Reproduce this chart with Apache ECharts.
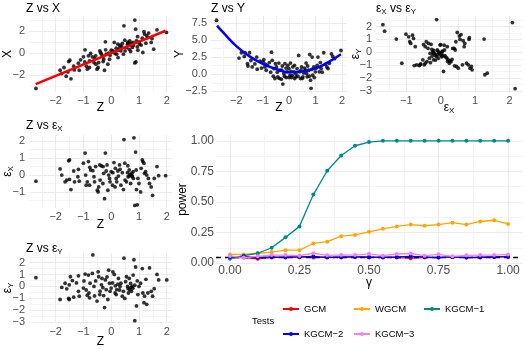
<!DOCTYPE html>
<html>
<head>
<meta charset="utf-8">
<script src="https://cdn.jsdelivr.net/npm/echarts@6/dist/echarts.min.js"></script>
<style>
html, body { margin: 0; padding: 0; background: #fff; }
#chart { width: 525px; height: 350px; }
</style>
</head>
<body>
<div id="chart"></div>
<script>
// ---- data ----

// Z vs X  [Z, X]
const zxPoints = [[-2.71,-3.2],[-1.84,-1.55],[-1.78,-1.85],[-1.62,-2.09],[-1.45,-2.33],[-1.56,-1.7],[-1.53,-0.76],[-1.49,-0.64],[-1.35,-1.18],[-1.33,-1.52],[-1.18,-0.91],[-1.15,-1.55],[-1.0,-0.33],[-0.94,0.3],[-0.89,-1.18],[-0.86,-1.45],[-0.82,-0.24],[-0.78,-1.3],[-0.78,-0.7],[-0.74,-0.03],[-0.68,-0.33],[-0.62,-0.85],[-0.56,-0.24],[-0.51,-1.45],[-0.47,-1.3],[-0.45,-0.85],[-0.41,0.21],[-0.38,0.06],[-0.35,-0.09],[-0.29,-0.76],[-0.27,-0.55],[-0.24,-1.55],[-0.21,1.03],[-0.18,-0.09],[-0.12,-1.0],[-0.09,0.0],[-0.06,-0.55],[-0.04,-0.18],[0.0,0.27],[0.06,0.21],[0.11,0.97],[0.14,-0.03],[0.18,0.45],[0.2,-0.09],[0.24,0.82],[0.26,0.27],[0.32,0.73],[0.35,0.21],[0.4,0.88],[0.44,-0.09],[0.46,2.48],[0.49,1.18],[0.55,0.52],[0.59,0.82],[0.61,0.88],[0.67,1.12],[0.71,0.73],[0.73,0.88],[0.76,0.52],[0.79,0.97],[0.88,2.18],[0.85,3.0],[0.85,-0.88],[0.89,-0.79],[0.91,1.12],[0.94,0.58],[0.96,0.27],[1.02,0.82],[1.08,0.73],[1.12,1.36],[1.14,0.06],[1.18,1.94],[1.2,1.73],[1.28,1.58],[1.32,1.42],[1.35,1.82],[1.44,0.97],[1.47,1.33],[1.53,0.36],[1.65,2.12],[1.99,1.88],[-1.7,-1.3],[-0.6,-0.5],[-0.3,-0.3],[0.1,0.1],[0.3,0.5],[0.5,0.2],[0.65,0.35],[0.8,0.7],[1.0,1.0],[-1.1,-0.6],[0.7,0.15],[-0.2,0.3],[0.25,-0.4],[1.25,0.9],[0.95,1.5],[-0.55,-1.0],[0.6,1.0],[0.38,0.6],[-0.95,-0.8]];
// linear fit, end points
const zxFit = [[-2.72,-2.8],[1.96,2.03]];

// Z vs Y  [Z, Y]
const zyPoints = [[-2.75,7.88],[-1.9,2.36],[-1.81,3.13],[-1.67,3.13],[-1.5,3.13],[-1.58,1.54],[-1.56,1.2],[-1.4,1.06],[-1.23,2.5],[-1.21,0.72],[-0.99,1.78],[-0.96,2.12],[-0.92,1.06],[-0.87,0.58],[-0.83,1.3],[-0.67,3.22],[-0.64,2.02],[-0.58,0.82],[-0.54,-0.63],[-0.52,1.54],[-0.48,1.06],[-0.43,-0.38],[-0.39,1.63],[-0.35,0.58],[-0.3,-0.72],[-0.26,1.2],[-0.24,-1.44],[-0.2,0.1],[-0.16,1.54],[-0.11,-0.48],[-0.08,0.34],[-0.05,1.3],[-0.01,0.82],[0.03,-0.14],[0.05,1.63],[0.09,-0.48],[0.14,1.06],[0.18,0.34],[0.21,-0.63],[0.26,-0.38],[0.3,0.82],[0.36,2.74],[0.39,0.34],[0.43,-0.63],[0.47,1.06],[0.52,-0.38],[0.55,0.19],[0.62,0.58],[0.64,1.63],[0.68,-0.38],[0.74,0.58],[0.78,2.88],[0.81,-0.87],[0.83,-2.07],[0.87,2.5],[0.89,-0.14],[0.93,1.06],[0.99,0.34],[1.06,1.3],[1.09,2.5],[1.14,0.34],[1.21,0.82],[1.31,3.13],[1.37,1.44],[1.43,1.06],[1.47,0.82],[1.6,2.98],[1.65,2.6],[1.72,2.26],[1.96,3.46],[-1.45,2.0],[-1.3,1.5],[-1.1,1.9],[-1.05,0.9],[-0.75,1.7],[-0.7,0.3],[-0.6,-0.3],[-0.45,0.3],[-0.38,-0.6],[-0.28,0.6],[-0.18,-0.3],[-0.12,0.9],[0.0,-0.5],[0.07,0.4],[0.12,-0.2],[0.2,1.3],[0.25,0.1],[0.33,-0.3],[0.45,0.6],[0.5,-0.6],[0.58,0.9],[0.66,0.1],[0.7,1.2],[0.76,-0.3],[0.85,0.7],[0.95,-0.5],[1.02,0.9],[1.18,1.7],[1.25,0.3],[1.52,1.6],[-0.9,1.45],[-1.7,2.6]];
// smooth fit
const zyFit = [[-2.73,7.1],[-2.5,6.1],[-2.0,4.1],[-1.5,2.6],[-1.0,1.5],[-0.5,0.75],[0.0,0.3],[0.5,0.4],[1.0,0.85],[1.5,1.8],[1.96,2.9]];

// eps_X vs eps_Y  [epsX, epsY]
const epsPoints = [[-1.68,2.15],[-1.63,1.64],[-1.29,1.03],[-1.13,-0.85],[-1.01,1.41],[-0.93,1.2],[-0.9,0.82],[-0.87,0.69],[-0.82,1.33],[-0.79,1.08],[-0.74,0.44],[-0.77,-1.03],[-0.62,-1.03],[-0.58,-0.9],[-0.52,-0.59],[-0.48,-0.97],[-0.45,0.44],[-0.42,0.82],[-0.4,-0.72],[-0.37,0.31],[-0.35,0.69],[-0.33,-0.46],[-0.31,-0.08],[-0.28,0.62],[-0.26,0.23],[-0.23,0.05],[-0.21,-0.59],[-0.18,-0.08],[-0.16,-0.21],[-0.13,-0.33],[-0.12,2.54],[-0.1,0.18],[-0.07,-0.46],[-0.04,-0.03],[-0.02,0.56],[0.0,-0.21],[0.02,-0.08],[0.04,0.05],[0.06,-0.28],[0.08,-1.49],[0.11,0.18],[0.15,-0.38],[0.19,0.44],[0.22,-0.59],[0.25,-0.85],[0.27,-0.67],[0.3,-0.72],[0.33,-0.54],[0.39,0.31],[0.42,0.18],[0.44,0.82],[0.46,-1.1],[0.48,1.54],[0.51,-1.23],[0.54,1.26],[0.56,1.0],[0.59,1.38],[0.63,-0.97],[0.68,0.44],[0.7,0.69],[0.75,-0.85],[0.8,-0.97],[0.82,1.0],[0.83,1.13],[0.85,-1.23],[0.89,-1.1],[0.91,-1.36],[1.26,1.03],[1.28,-1.74],[1.35,-1.62],[2.08,2.31],[2.16,-2.82],[-0.2,0.15],[-0.1,-0.2],[-0.15,-0.6],[0.12,-0.25],[0.05,0.1],[-0.05,-0.1],[0.0,0.6],[-0.3,-0.8],[0.2,-0.7],[-0.5,0.6],[-0.6,-0.95],[0.35,0.3],[0.03,-0.35],[-0.08,0.1],[-0.25,-0.3],[0.18,-0.45],[-0.45,-0.85],[0.65,0.9],[-0.7,-0.98],[0.4,-1.05],[-0.22,-0.1],[0.1,0.55]];

// Z vs eps_X  [Z, epsX]
const zEpsX = [[-2.71,-0.36],[-1.84,0.36],[-1.78,0.0],[-1.66,-0.4],[-1.53,0.84],[-1.5,0.9],[-1.5,-0.26],[-1.45,-0.86],[-1.35,0.24],[-1.32,-0.4],[-1.18,0.34],[-1.15,-0.36],[-1.0,0.7],[-0.94,1.3],[-0.92,0.0],[-0.86,-0.4],[-0.82,0.8],[-0.78,-0.6],[-0.77,0.46],[-0.74,0.3],[-0.62,-0.1],[-0.56,0.5],[-0.5,-0.9],[-0.47,-1.0],[-0.45,-0.7],[-0.41,0.6],[-0.35,0.54],[-0.29,0.5],[-0.27,0.1],[-0.24,-1.4],[-0.21,1.3],[-0.18,0.24],[-0.12,-0.9],[-0.09,0.0],[-0.06,-0.2],[-0.04,-0.4],[0.0,0.2],[0.06,0.14],[0.1,0.74],[0.14,-0.7],[0.18,-0.2],[0.2,-0.4],[0.24,0.24],[0.26,-0.06],[0.32,0.34],[0.35,-0.6],[0.4,0.14],[0.44,-0.86],[0.46,2.1],[0.49,0.7],[0.55,-0.4],[0.59,0.14],[0.61,-0.1],[0.65,-0.06],[0.68,0.04],[0.71,0.0],[0.74,0.1],[0.76,-0.1],[0.79,0.2],[0.82,2.2],[0.85,-1.8],[0.88,1.36],[0.91,-0.86],[0.94,-1.76],[0.96,-0.2],[1.06,-1.0],[1.08,0.4],[1.12,0.9],[1.14,0.8],[1.18,0.7],[1.2,0.1],[1.24,0.2],[1.28,0.0],[1.34,-0.2],[1.38,-0.5],[1.44,-0.7],[1.49,-1.2],[1.55,-0.2],[1.65,0.5],[1.71,-0.04],[1.96,-0.04],[-0.66,0.26],[-0.4,-0.3],[-0.3,-0.5],[0.05,-0.6],[0.3,0.6],[0.5,-0.3],[0.7,-0.5],[0.8,-0.2],[-1.2,-0.1],[-0.6,-0.4],[0.9,0.3],[1.0,-0.5],[0.15,0.4],[-0.15,0.6],[0.65,0.3],[-1.6,-0.3],[-0.9,-0.6],[0.75,-0.05],[0.6,0.55]];

// Z vs eps_Y  [Z, epsY]
const zEpsY = [[-2.71,0.74],[-1.84,-1.1],[-1.78,-0.08],[-1.66,0.27],[-1.53,-1.01],[-1.51,-1.1],[-1.47,0.82],[-1.51,0.14],[-1.35,-0.9],[-1.18,0.9],[-1.18,-0.41],[-1.15,-0.82],[-1.0,-0.14],[-0.98,0.47],[-0.94,1.04],[-0.86,-0.74],[-0.82,0.96],[-0.8,-0.55],[-0.78,-0.96],[-0.76,0.27],[-0.68,1.1],[-0.66,2.66],[-0.62,0.0],[-0.56,0.47],[-0.51,-1.23],[-0.47,1.23],[-0.45,0.82],[-0.41,-0.68],[-0.35,0.14],[-0.33,0.68],[-0.27,-0.77],[-0.24,-1.78],[-0.21,0.55],[-0.18,-0.27],[-0.12,-1.1],[-0.09,1.37],[-0.06,0.27],[-0.04,-0.41],[0.0,-0.14],[0.06,1.23],[0.11,1.01],[0.14,-0.55],[0.18,-0.68],[0.2,-0.27],[0.24,0.19],[0.26,0.68],[0.32,0.0],[0.35,0.27],[0.4,-0.82],[0.44,-0.41],[0.46,2.38],[0.49,-1.01],[0.55,0.82],[0.59,0.0],[0.61,-0.19],[0.65,0.68],[0.67,-0.27],[0.71,-0.08],[0.73,-0.41],[0.76,0.0],[0.79,0.96],[0.82,2.25],[0.85,-2.88],[0.88,1.64],[0.91,-1.64],[0.94,0.47],[0.96,-0.68],[1.06,0.27],[1.12,1.51],[1.14,-0.55],[1.18,-1.37],[1.2,-0.82],[1.28,-1.51],[1.32,-0.55],[1.38,1.56],[1.44,-0.41],[1.49,-0.82],[1.55,-0.19],[1.65,1.01],[1.71,0.55],[2.0,0.55],[-1.6,-0.2],[-1.25,0.3],[-0.9,-0.3],[-0.6,-0.8],[-0.3,-0.1],[0.05,0.3],[0.3,-0.3],[0.52,0.4],[0.7,0.25],[0.78,-0.15],[0.85,0.1],[1.0,0.0],[1.25,0.6],[-0.15,0.8],[-0.4,-0.4],[0.15,0.05],[0.62,-0.55],[-1.4,0.5]];

// power curves
const gamma = [0, 0.05, 0.1, 0.15, 0.2, 0.25, 0.3, 0.35, 0.4, 0.45, 0.5, 0.55, 0.6, 0.65, 0.7, 0.75, 0.8, 0.85, 0.9, 0.95, 1];
const gcm   = [0.045, 0.045, 0.035, 0.045, 0.05, 0.05, 0.045, 0.05, 0.045, 0.05, 0.045, 0.05, 0.045, 0.04, 0.045, 0.045, 0.05, 0.045, 0.05, 0.05, 0.055];
const wgcm  = [0.07, 0.07, 0.08, 0.09, 0.105, 0.105, 0.16, 0.175, 0.22, 0.23, 0.255, 0.28, 0.3, 0.315, 0.305, 0.315, 0.33, 0.315, 0.34, 0.35, 0.32];
const kgcm1 = [0.035, 0.06, 0.08, 0.125, 0.21, 0.3, 0.56, 0.755, 0.88, 0.96, 0.99, 1, 1, 1, 1, 1, 1, 1, 1, 1, 1];
const kgcm2 = [0.05, 0.055, 0.045, 0.05, 0.045, 0.05, 0.055, 0.045, 0.05, 0.05, 0.05, 0.045, 0.05, 0.055, 0.05, 0.045, 0.05, 0.045, 0.045, 0.05, 0.05];
const kgcm3 = [0.058, 0.045, 0.055, 0.065, 0.065, 0.06, 0.08, 0.063, 0.066, 0.065, 0.075, 0.06, 0.074, 0.078, 0.06, 0.071, 0.055, 0.063, 0.065, 0.065, 0.07];
const testNames = ['GCM', 'WGCM', 'KGCM\u22121', 'KGCM\u22122', 'KGCM\u22123'];
const testColors = ['#FF0000', '#FFA500', '#008B8B', '#0000FF', '#EE82EE'];
const alphaLevel = 0.05;

// tick labels
const zTicks = [-2, -1, 0, 1, 2];
const xTicks = [-2, 0, 2];
const yTicks = [-2.5, 0, 2.5, 5, 7.5];
const epsXTicks = [-1, 0, 1, 2];
const epsYTicks = [-3, -2, -1, 0, 1, 2];
const powerTicks = [0, 0.25, 0.5, 0.75, 1];

// ---- styling ----
const FONT = "'Liberation Sans', Arial, sans-serif";
const MAJOR = '#EBEBEB', MINOR = '#F4F4F4';
const SUB = { fontSize: 8, fontFamily: FONT, verticalAlign: 'bottom', lineHeight: 8 };

// minor grid values sit half way between the majors
function halves(majors, min, max) {
    let step = majors[1] - majors[0];
    let out = [];
    for (let v = majors[0] - step / 2; v <= majors[majors.length - 1] + step; v += step) {
        if (v > min && v < max) out.push(+v.toFixed(4));
    }
    return out;
}

function axis(o) {
    let minors = halves(o.ticks, o.min, o.max);
    let all = o.ticks.filter(v => v >= o.min && v <= o.max).map(v => [v, MAJOR])
        .concat(minors.map(v => [v, MINOR]))
        .sort((a, b) => a[0] - b[0]);
    return {
        type: 'value', gridIndex: o.grid, min: o.min, max: o.max,
        name: o.name, nameLocation: 'middle', nameGap: o.nameGap, nameRotate: o.rotate || 0,
        nameMoveOverlap: false,
        nameTextStyle: { fontSize: o.nameSize || 12, color: '#000', fontFamily: FONT, lineHeight: 14, rich: { s: SUB } },
        axisLine: { show: false },
        axisTick: { show: false, customValues: all.map(a => a[0]) },
        axisLabel: {
            customValues: o.ticks, fontSize: o.fontSize || 11, color: '#4D4D4D', fontFamily: FONT, margin: o.margin,
            formatter: v => (o.digits != null ? (+v).toFixed(o.digits) : String(+v)).replace('-', '\u2212')
        },
        splitLine: { show: true, lineStyle: { color: all.map(a => a[1]), width: 1 } }
    };
}

function title(text, left, top) {
    return {
        text: text, left: left, top: top, padding: 0,
        textStyle: { fontSize: 12, fontWeight: 'normal', color: '#000', fontFamily: FONT, lineHeight: 15, rich: { s: SUB } }
    };
}

function scatter(i, data) {
    return { type: 'scatter', xAxisIndex: i, yAxisIndex: i, data: data, symbolSize: 3.8, itemStyle: { color: '#000' }, silent: true, z: 2 };
}

// one legend per entry so the columns line up like the original
function legendItem(k, left, top) {
    return {
        data: [testNames[k]], left: left, top: top, itemWidth: 16, itemHeight: 5, padding: 0,
        textStyle: { fontSize: 9.5, color: '#000', fontFamily: FONT }
    };
}

let powerSeries = [gcm, wgcm, kgcm1, kgcm2, kgcm3].map((vals, k) => ({
    type: 'line', name: testNames[k], xAxisIndex: 5, yAxisIndex: 5,
    data: gamma.map((g, j) => [g, vals[j]]),
    symbol: 'circle', symbolSize: 4, color: testColors[k],
    lineStyle: { width: 1.3, color: testColors[k] },
    itemStyle: { color: testColors[k] },
    z: 3 + k
}));
powerSeries[4].markLine = {
    silent: true, symbol: ['none', 'none'], label: { show: false },
    lineStyle: { color: '#000', type: [5, 4], width: 1.4 },
    data: [{ yAxis: alphaLevel }]
};

let chart = echarts.init(document.getElementById('chart'));
chart.setOption({
    animation: false,
    backgroundColor: '#fff',
    title: [
        title('Z vs X', 26, 1),
        title('Z vs Y', 211, 1),
        title('\u03b5{s|X} vs \u03b5{s|Y}', 376, 1),
        title('Z vs \u03b5{s|X}', 26, 118),
        title('Z vs \u03b5{s|Y}', 26, 241),
        { text: 'Tests', left: 252, top: 316, padding: 0, textStyle: { fontSize: 9.5, fontWeight: 'normal', color: '#000', fontFamily: FONT } }
    ],
    grid: [
        { left: 26, top: 16, width: 146, height: 76 },
        { left: 211, top: 16, width: 136, height: 76 },
        { left: 376, top: 16, width: 146, height: 76 },
        { left: 26, top: 135, width: 146, height: 73 },
        { left: 26, top: 253, width: 146, height: 72 },
        { left: 216, top: 135, width: 306, height: 129 }
    ],
    xAxis: [
        axis({ grid: 0, min: -2.96, max: 2.19, ticks: zTicks, name: 'Z', nameGap: 9, margin: 3 }),
        axis({ grid: 1, min: -2.96, max: 2.19, ticks: zTicks, name: 'Z', nameGap: 9, margin: 3 }),
        axis({ grid: 2, min: -1.88, max: 2.36, ticks: epsXTicks, name: '\u03b5{s|X}', nameGap: 9, margin: 3 }),
        axis({ grid: 3, min: -2.96, max: 2.19, ticks: zTicks, name: 'Z', nameGap: 10, margin: 3 }),
        axis({ grid: 4, min: -2.96, max: 2.19, ticks: zTicks, name: 'Z', nameGap: 12, margin: 3 }),
        axis({ grid: 5, min: -0.05, max: 1.05, ticks: powerTicks, digits: 2, fontSize: 12, name: '\u03b3', nameGap: 12, margin: 1 })
    ],
    yAxis: [
        axis({ grid: 0, min: -3.52, max: 3.37, ticks: xTicks, name: 'X', nameGap: 14, rotate: 90, margin: 4 }),
        axis({ grid: 1, min: -2.6, max: 8.5, ticks: yTicks, digits: 1, name: 'Y', nameGap: 24, rotate: 90, margin: 4 }),
        axis({ grid: 2, min: -3.08, max: 2.82, ticks: epsYTicks, name: '\u03b5{s|Y}', nameGap: 13, rotate: 90, margin: 4 }),
        axis({ grid: 3, min: -1.95, max: 2.37, ticks: epsXTicks, name: '\u03b5{s|X}', nameGap: 14, rotate: 90, margin: 4 }),
        axis({ grid: 4, min: -3.08, max: 2.82, ticks: epsYTicks, name: '\u03b5{s|Y}', nameGap: 14, rotate: 90, margin: 4 }),
        axis({ grid: 5, min: -0.008, max: 1.048, ticks: powerTicks, digits: 2, fontSize: 12, name: 'power', nameGap: 26, rotate: 90, margin: 2 })
    ],
    legend: [
        legendItem(0, 282, 304),
        legendItem(1, 353, 304),
        legendItem(2, 423, 304),
        legendItem(3, 282, 329),
        legendItem(4, 353, 329)
    ],
    series: [
        scatter(0, zxPoints),
        { type: 'line', xAxisIndex: 0, yAxisIndex: 0, data: zxFit, symbol: 'none', lineStyle: { color: '#FF0000', width: 2.5 }, z: 3, silent: true },
        scatter(1, zyPoints),
        { type: 'line', xAxisIndex: 1, yAxisIndex: 1, data: zyFit, symbol: 'none', smooth: true, lineStyle: { color: '#0000FF', width: 2.5 }, z: 3, silent: true },
        scatter(2, epsPoints),
        scatter(3, zEpsX),
        scatter(4, zEpsY)
    ].concat(powerSeries)
});
</script>
</body>
</html>
